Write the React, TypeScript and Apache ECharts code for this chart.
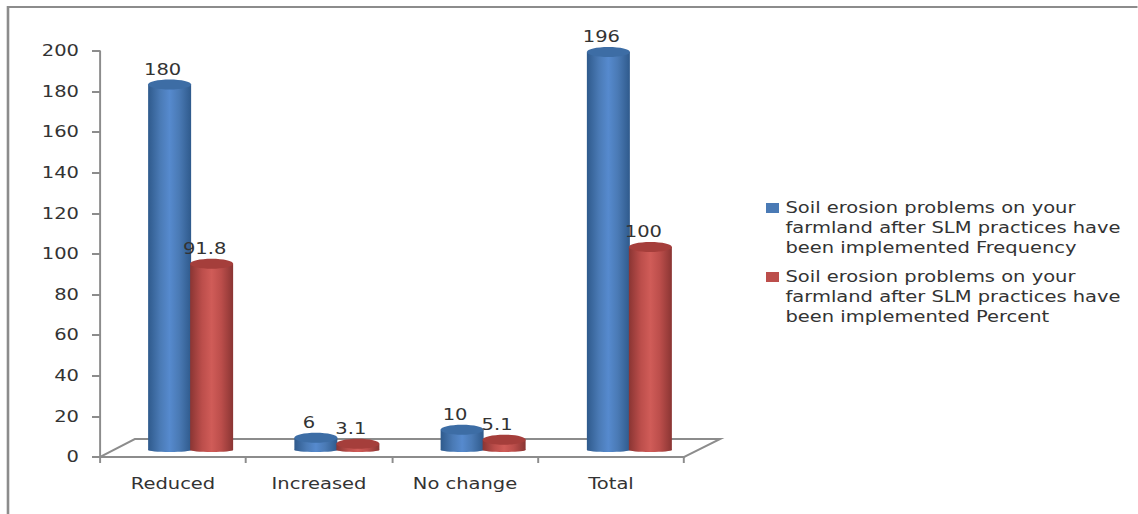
import React, { useEffect, useRef } from "react";
import * as echarts from "echarts";

const categories = ["Reduced", "Increased", "No change", "Total"];
const frequency = [180, 6, 10, 196];
const percent = [91.8, 3.1, 5.1, 100];
const percentLabels = ["91.8", "3.1", "5.1", "100"];
const frequencyLabels = ["180", "6", "10", "196"];
const seriesNames = [
  "Soil erosion problems on your farmland after SLM practices have been implemented Frequency",
  "Soil erosion problems on your farmland after SLM practices have been implemented Percent",
];
const legendLines = [
  ["Soil erosion problems on your", "farmland after SLM practices have", "been implemented Frequency"],
  ["Soil erosion problems on your", "farmland after SLM practices have", "been implemented Percent"],
];
const yTicks = { min: 0, max: 200, interval: 20 };

// The whole drawing is laid out narrower and widened, which gives the broad lettering.
const WIDEN = 1.3;
const W = 1138;
const H = 514;
const X = (x: number) => x / WIDEN;

const FONT = "DejaVu Sans";
const TEXT = "#333333";
const LINE = "#8c8c8c";
const FONT_SIZE = 15;

const BAR_WIDTH = X(43);
const BAR_SHIFT = X(21);
const CAP_RY = 5;
const FOOT_RY = 2;
const LABEL_DX = X(-7);
const LABEL_DY = 15;

type Tone = { edge: string; mid: string; light: string; cap: string };
const BLUE: Tone = { edge: "#2f5a8c", mid: "#4a7ab5", light: "#568ace", cap: "#3d6da5" };
const RED: Tone = { edge: "#8a3533", mid: "#bc4e4b", light: "#d05c58", cap: "#a53e3b" };

const shade = (t: Tone) =>
  new echarts.graphic.LinearGradient(0, 0, 1, 0, [
    { offset: 0, color: t.edge },
    { offset: 0.28, color: t.mid },
    { offset: 0.5, color: t.light },
    { offset: 0.72, color: t.mid },
    { offset: 1, color: t.edge },
  ]);

// One cylinder per data point: body, rounded foot, darker cap and its value label.
const cylinder = (tone: Tone, shift: number, labels: string[]) => (params: any, api: any) => {
  const top = api.coord([api.value(0), api.value(1)]);
  const base = api.coord([api.value(0), 0]);
  const cx = top[0] + shift;
  const rx = BAR_WIDTH / 2;
  const fill = shade(tone);
  return {
    type: "group",
    children: [
      { type: "ellipse", shape: { cx, cy: base[1], rx, ry: FOOT_RY }, style: { fill } },
      { type: "rect", shape: { x: cx - rx, y: top[1], width: BAR_WIDTH, height: base[1] - top[1] }, style: { fill } },
      { type: "ellipse", shape: { cx, cy: top[1], rx, ry: CAP_RY }, style: { fill: tone.cap } },
      {
        type: "text",
        style: {
          x: cx + LABEL_DX,
          y: top[1] - LABEL_DY,
          text: labels[params.dataIndex],
          fill: TEXT,
          font: `${FONT_SIZE}px "${FONT}"`,
          align: "center",
          verticalAlign: "middle",
        },
      },
    ],
  };
};

const legendIcon = "path://M0 0H10V10H0Z M0 50L0 50Z";

const makeOption = () => ({
  animation: false,
  backgroundColor: "#ffffff",
  textStyle: { fontFamily: FONT },
  color: [BLUE.mid, RED.mid],
  grid: [
    { left: X(100), width: X(584), top: 51, height: 406 },
    { left: X(117.5), width: X(585), top: 44, height: 406 },
  ],
  xAxis: [
    {
      type: "category",
      gridIndex: 0,
      data: categories,
      axisLine: { lineStyle: { color: LINE, width: 2 } },
      axisTick: { show: true, length: 6, lineStyle: { color: LINE, width: 1.5 } },
      axisLabel: { color: TEXT, fontSize: FONT_SIZE, fontFamily: FONT, margin: 19 },
    },
    { type: "category", gridIndex: 1, data: categories, show: false },
  ],
  yAxis: [
    {
      type: "value",
      gridIndex: 0,
      ...yTicks,
      splitLine: { show: false },
      axisLine: { show: true, lineStyle: { color: LINE, width: 1.5 } },
      axisTick: { show: true, length: X(8), lineStyle: { color: LINE, width: 2 } },
      axisLabel: { color: TEXT, fontSize: FONT_SIZE, fontFamily: FONT, margin: X(21) },
    },
    { type: "value", gridIndex: 1, ...yTicks, show: false },
  ],
  legend: {
    orient: "vertical",
    left: X(766),
    top: 198,
    padding: 0,
    itemWidth: 10,
    itemHeight: 50,
    itemGap: 9,
    data: seriesNames.map((name) => ({ name, icon: legendIcon })),
    selectedMode: false,
    textStyle: { color: TEXT, fontSize: FONT_SIZE, fontFamily: FONT, lineHeight: 20 },
    formatter: (name: string) => legendLines[seriesNames.indexOf(name)].join("\n"),
  },
  graphic: [
    {
      type: "polyline",
      silent: true,
      shape: { points: [[X(100), 457], [X(135), 439], [X(720), 439], [X(684), 457]] },
      style: { stroke: LINE, lineWidth: 2, fill: "none" },
    },
    {
      type: "polyline",
      silent: true,
      shape: { points: [[X(8), H], [X(8), 7], [X(W), 7]] },
      style: { stroke: LINE, lineWidth: 2, fill: "none" },
    },
  ],
  series: [
    {
      type: "custom",
      name: seriesNames[0],
      xAxisIndex: 1,
      yAxisIndex: 1,
      itemStyle: { color: BLUE.mid },
      renderItem: cylinder(BLUE, -BAR_SHIFT, frequencyLabels),
      encode: { x: 0, y: 1 },
      data: frequency.map((v, i) => [i, v]),
      z: 3,
    },
    {
      type: "custom",
      name: seriesNames[1],
      xAxisIndex: 1,
      yAxisIndex: 1,
      itemStyle: { color: RED.mid },
      renderItem: cylinder(RED, BAR_SHIFT, percentLabels),
      encode: { x: 0, y: 1 },
      data: percent.map((v, i) => [i, v]),
      z: 4,
    },
  ],
});

export default function App() {
  const ref = useRef<HTMLDivElement>(null);
  useEffect(() => {
    if (!ref.current) return;
    const chart = echarts.init(ref.current, undefined, { renderer: "svg" });
    chart.setOption(makeOption());
    return () => chart.dispose();
  }, []);
  return (
    <div style={{ position: "fixed", left: 0, top: 0, width: W, height: H, overflow: "hidden", background: "#fff" }}>
      <div
        ref={ref}
        style={{
          width: X(W),
          height: H,
          transform: `scaleX(${WIDEN})`,
          transformOrigin: "0 0",
        }}
      />
    </div>
  );
}
